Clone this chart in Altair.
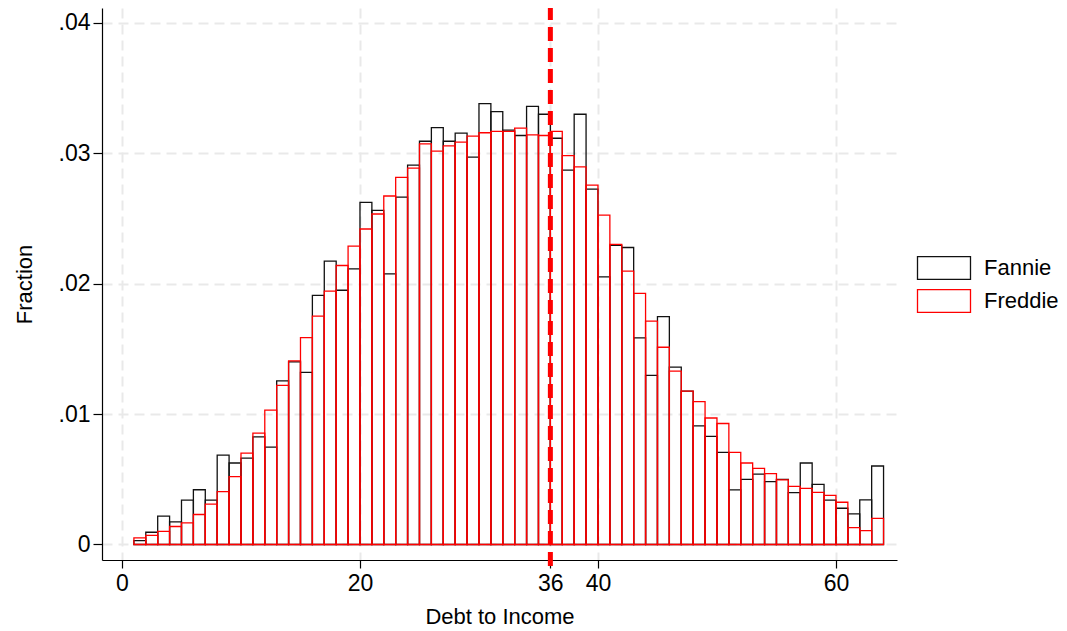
import altair as alt
import pandas as pd

# Debt-to-income bins (1-point wide), left edges 1..63
bin_start = list(range(1, 64))

fannie = [
    0.0003, 0.00094, 0.00217, 0.00174, 0.0034, 0.0042, 0.0034, 0.00686, 0.00625, 0.00663,
    0.00826, 0.00747, 0.01255, 0.0140, 0.0132, 0.0191, 0.02173, 0.0195, 0.02114, 0.02624,
    0.02563, 0.02076, 0.02665, 0.0291, 0.03093, 0.03198, 0.03093, 0.03155, 0.02971, 0.03382,
    0.0332, 0.03178, 0.03137, 0.03361, 0.0330, 0.03116, 0.02872, 0.0330, 0.02726, 0.02053,
    0.02295, 0.02278, 0.01584, 0.01297, 0.01747, 0.0136, 0.01176, 0.0091, 0.0083, 0.00706,
    0.00419, 0.0050, 0.0054, 0.00482, 0.0050, 0.00398, 0.00625, 0.00461, 0.00341, 0.00278,
    0.00235, 0.00342, 0.00602,
]

freddie = [
    0.0005, 0.0007, 0.0010, 0.00138, 0.00166, 0.0023, 0.0031, 0.00405, 0.0052, 0.0070,
    0.00854, 0.0103, 0.0122, 0.01408, 0.01586, 0.01752, 0.01943, 0.0214, 0.02288, 0.0242,
    0.02535, 0.02673, 0.02816, 0.02887, 0.03073, 0.03017, 0.03058, 0.03086, 0.03132, 0.03158,
    0.03168, 0.03168, 0.03193, 0.03142, 0.03137, 0.03168, 0.02982, 0.02897, 0.02757, 0.02527,
    0.02302, 0.02096, 0.01926, 0.01714, 0.01513, 0.01329, 0.01176, 0.01096, 0.0097, 0.00928,
    0.00706, 0.00625, 0.00584, 0.00543, 0.00495, 0.00446, 0.00431, 0.0040, 0.00377, 0.00324,
    0.0013, 0.00107, 0.00201,
]

series_names = ["Fannie", "Freddie"]
series_colors = ["#111111", "#ff0000"]

x_ticks = [0, 20, 36, 40, 60]
y_ticks = [0, 0.01, 0.02, 0.03, 0.04]
cutoff = [36]

rows = []
for name, vals in zip(series_names, [fannie, freddie]):
    for s, v in zip(bin_start, vals):
        rows.append({"start": s, "end": s + 1, "fraction": v, "lender": name})
bars_df = pd.DataFrame(rows)
cut_df = pd.DataFrame({"dti": cutoff})

FONT = "Liberation Sans"
W, H = 795, 552

x_scale = alt.Scale(domain=[-1.68, 65.13], nice=False, zero=False)
y_scale = alt.Scale(domain=[-0.00119, 0.04115], nice=False, zero=False)

grid_kw = dict(grid=True, gridColor="#e9e9e9", gridDash=[10, 6], gridWidth=2)

# wide legend key: path drawn in a 4x1.7 box, scaled by the symbol size
KEY_PATH = "M-2,-0.86L2,-0.86L2,0.86L-2,0.86Z"

bars = (
    alt.Chart(bars_df)
    .mark_bar(fill="white", fillOpacity=0, strokeWidth=1.3, clip=True)
    .encode(
        x=alt.X(
            "start:Q",
            scale=x_scale,
            axis=alt.Axis(
                values=x_ticks,
                title="Debt to Income",
                format="d",
                tickSize=8,
                labelPadding=4,
                titlePadding=11,
                labelFontSize=23,
                domainColor="black",
                tickColor="black",
                **grid_kw,
            ),
        ),
        x2="end:Q",
        y=alt.Y(
            "fraction:Q",
            scale=y_scale,
            axis=alt.Axis(
                values=y_ticks,
                title="Fraction",
                labelExpr="datum.value == 0 ? '0' : substring(format(datum.value, '.2f'), 1)",
                tickSize=9,
                labelPadding=3,
                titlePadding=22,
                labelFontSize=23,
                domainColor="black",
                tickColor="black",
                **grid_kw,
            ),
        ),
        y2=alt.datum(0),
        stroke=alt.Stroke(
            "lender:N",
            scale=alt.Scale(domain=series_names, range=series_colors),
            legend=alt.Legend(
                title=None,
                orient="none",
                legendX=828,
                legendY=246,
                symbolType=KEY_PATH,
                symbolSize=702,
                symbolFillColor="white",
                symbolStrokeWidth=1.3,
                labelFontSize=22,
                labelFont=FONT,
                labelColor="black",
                labelOffset=26,
                rowPadding=5,
            ),
        ),
    )
)

cut_line = (
    alt.Chart(cut_df)
    .mark_rule(color="#ff0000", strokeWidth=5, strokeDash=[14, 7])
    .encode(x=alt.X("dti:Q", scale=x_scale), y=alt.value(H + 6), y2=alt.value(0))
)

chart = (
    alt.layer(bars, cut_line)
    .properties(
        width=W,
        height=H,
        autosize=alt.AutoSizeParams(type="none"),
        padding={"left": 102, "top": 8, "right": 170, "bottom": 71},
        background="white",
    )
    .configure_view(stroke=None)
    .configure_axis(
        labelFont=FONT,
        titleFont=FONT,
        titleFontSize=22,
        titleFontWeight="normal",
        labelColor="black",
        titleColor="black",
        domainWidth=1.2,
        tickWidth=1.2,
    )
)

chart.save("out.html", embed_options={"renderer": "svg", "actions": False})
